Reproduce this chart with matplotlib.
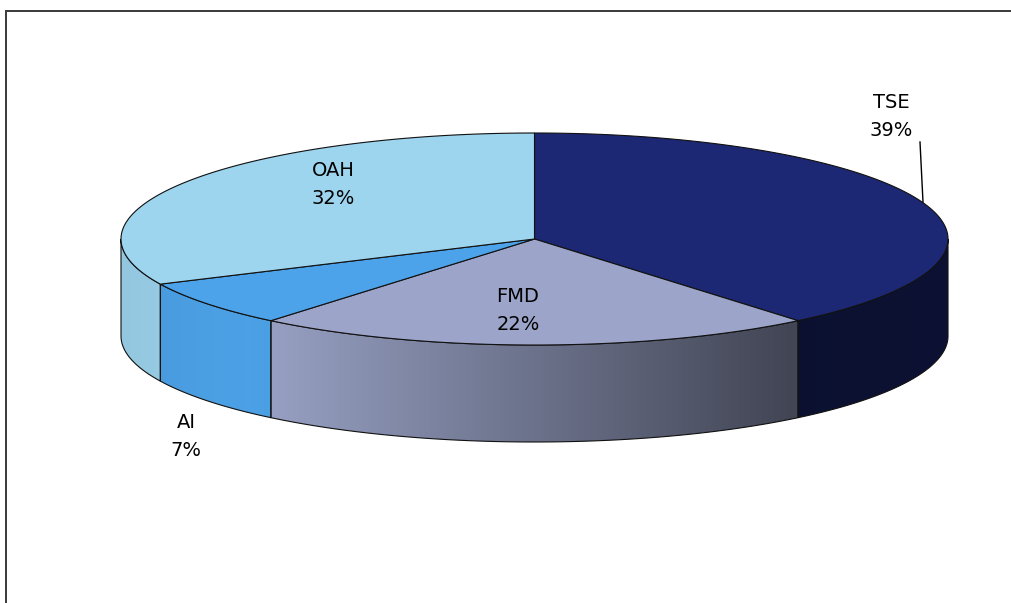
import matplotlib
matplotlib.use("Agg")
import matplotlib.pyplot as plt
import numpy as np
from matplotlib.patches import Polygon
from matplotlib.colors import to_rgb

labels = ["TSE", "FMD", "AI", "OAH"]
shares = [39, 22, 7, 32]
colors = ["#1C2873", "#9CA5C9", "#4DA3E9", "#9DD4EE"]
# label anchor (x, y of name line) in pixel space
label_pos = [(891, 102), (518, 296), (186, 423), (333, 171)]

W, H = 1012, 603
cx, cy = 534.5, 239.0      # centre of top ellipse
a, b = 413.5, 106.0        # semi axes
depth = 97.0               # thickness of the disc

fig = plt.figure(figsize=(W / 100, H / 100), dpi=100)
ax = fig.add_axes([0, 0, 1, 1])
ax.set_xlim(0, W)
ax.set_ylim(H, 0)
ax.axis("off")


def arc(t0, t1, n=200, dy=0.0):
    t = np.radians(np.linspace(t0, t1, n))
    return np.column_stack([cx + a * np.sin(t), cy - b * np.cos(t) + dy])


# shading of the rim, darker towards the right
def shade(x):
    return np.interp(x, [121, 250, 790, 948], [0.94, 0.99, 0.42, 0.45])


bounds = np.concatenate([[0], np.cumsum(shares)]) / np.sum(shares) * 360.0

# rim (only the front half, 90..270 deg, is visible)
xs = np.linspace(cx - a, cx + a, 600)
for i, col in enumerate(colors):
    t0, t1 = max(bounds[i], 90), min(bounds[i + 1], 270)
    if t1 <= t0:
        continue
    top = arc(t0, t1)
    bot = arc(t1, t0, dy=depth)
    pts = np.vstack([top, bot])
    poly = Polygon(pts, closed=True, facecolor="none", edgecolor="#111111",
                   lw=0.8, zorder=3)
    ax.add_patch(poly)
    img = np.array(to_rgb(col))[None, None, :] * shade(xs)[None, :, None]
    im = ax.imshow(img, extent=(cx - a, cx + a, cy + b + depth + 2, cy - 2),
                   aspect="auto", zorder=2, interpolation="bilinear")
    im.set_clip_path(poly)

# top faces
for i, col in enumerate(colors):
    pts = np.vstack([[cx, cy], arc(bounds[i], bounds[i + 1])])
    ax.add_patch(Polygon(pts, closed=True, facecolor=col, edgecolor="#111111",
                         lw=0.8, zorder=4))

# labels
for name, pct, (lx, ly) in zip(labels, shares, label_pos):
    ax.text(lx, ly, name, ha="center", va="center", fontsize=14,
            color="black", zorder=6)
    ax.text(lx, ly + 28, f"{pct}%", ha="center", va="center", fontsize=14,
            color="black", zorder=6)

# leader line for TSE
ax.plot([920, 923], [142, 202], color="black", lw=1.0, zorder=5)

# chart area frame
ax.plot([6.5, 6.5, W], [H, 10.5, 10.5], color="#3a3a3a", lw=1.4, zorder=1,
        solid_joinstyle="miter")

fig.savefig("out.png", dpi=100)
